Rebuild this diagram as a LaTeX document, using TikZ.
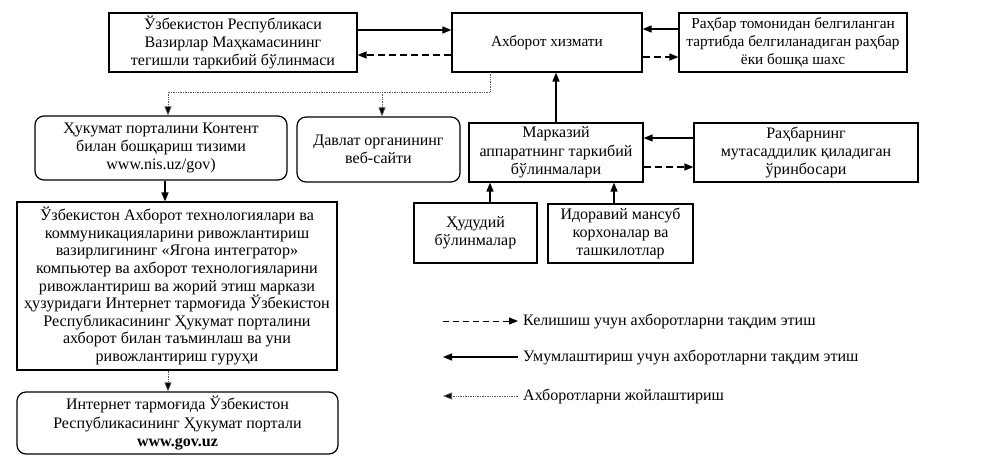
\documentclass[tikz,border=0pt]{standalone}
\usepackage{fontspec}
\setmainfont{Liberation Serif}
\usetikzlibrary{arrows.meta}
\begin{document}
\begin{tikzpicture}[x=1pt,y=-1pt,
  every node/.style={font=\fontsize{16}{18.3}\selectfont, align=center, inner sep=2pt},
  box/.style={draw, line width=1.2pt, minimum width=#1},
  rbox/.style={draw, line width=1.2pt, rounded corners=9pt, minimum width=#1},
  arr/.style={line width=1.3pt, -{Triangle[length=9pt,width=7pt]}},
  dsh/.style={arr, dash pattern=on 7pt off 4pt},
  dot/.style={line width=0.7pt, densely dotted, gray!70!black, -{Triangle[length=9pt,width=7pt,fill=black]}},
  dotl/.style={line width=0.7pt, densely dotted, gray!70!black}
]
\useasboundingbox (0,0) rectangle (988,474);
\node[box=248pt, minimum height=59pt] (b1) at (233,42.5) {Ўзбекистон Республикаси\\Вазирлар Маҳкамасининг\\тегишли таркибий бўлинмаси};
\node[box=190pt, minimum height=59pt, font=\fontsize{15.3}{18.3}\selectfont] (b2) at (547,42.5) {Ахборот хизмати};
\node[box=228pt, minimum height=59pt, font=\fontsize{15.3}{18.3}\selectfont] (b3) at (793,42.5) {Раҳбар томонидан белгиланган\\тартибда белгиланадиган раҳбар\\ёки бошқа шахс};
\node[rbox=252pt, minimum height=64pt] (b4) at (161,148) {Ҳукумат порталини Контент\\билан бошқариш тизими\\www.nis.uz/gov)};
\node[rbox=163pt, minimum height=65pt] (b5) at (378.5,149.5) {Давлат органининг\\веб-сайти};
\node[box=174pt, minimum height=59pt] (b6) at (556,152.5) {Марказий\\аппаратнинг таркибий\\бўлинмалари};
\node[box=224pt, minimum height=59pt] (b7) at (806,152.5) {Раҳбарнинг\\мутасаддилик қиладиган\\ўринбосари};
\node[box=123pt, minimum height=60pt] (b8) at (475.5,233) {Ҳудудий\\бўлинмалар};
\node[box=145pt, minimum height=59pt] (b9) at (620.5,233.5) {Идоравий мансуб\\корхоналар ва\\ташкилотлар};
\node[box=320pt, minimum height=168pt, font=\fontsize{16.1}{17.6}\selectfont] (b10) at (177,286) {Ўзбекистон Ахборот технологиялари ва\\коммуникацияларини ривожлантириш\\вазирлигининг «Ягона интегратор»\\компьютер ва ахборот технологияларини\\ривожлантириш ва жорий этиш маркази\\ҳузуридаги Интернет тармоғида Ўзбекистон\\Республикасининг Ҳукумат порталини\\ахборот билан таъминлаш ва уни\\ривожлантириш гуруҳи};
\node[rbox=321pt, minimum height=62pt] (b11) at (177.5,423) {Интернет тармоғида Ўзбекистон\\Республикасининг Ҳукумат портали\\\textbf{www.gov.uz}};
% top row connectors
\draw[arr] ([yshift=12.5pt]b1.east) -- ([yshift=12.5pt]b2.west);
\draw[dsh] ([yshift=-12.5pt]b2.west) -- ([yshift=-12.5pt]b1.east);
\draw[arr] ([yshift=13.5pt]b3.west) -- ([yshift=13.5pt]b2.east);
\draw[dsh] ([yshift=-14.5pt]b2.east) -- ([yshift=-14.5pt]b3.west);
% middle
\draw[arr] (b6.north) -- (b6.north |- b2.south);
\draw[arr] ([yshift=14.5pt]b7.west) -- ([yshift=14.5pt]b6.east);
\draw[dsh] ([yshift=-14.5pt]b6.east) -- ([yshift=-14.5pt]b7.west);
\draw[arr] (490,0 |- b8.north) -- (490,0 |- b6.south);
\draw[arr] (614,0 |- b9.north) -- (614,0 |- b6.south);
% dotted distribution
\coordinate (d0) at (490,72);
\coordinate (dj) at (490,92);
\coordinate (dl) at (168,92);
\coordinate (dm) at (382,92);
\draw[dotl] (d0) -- (dj) -- (dl);
\draw[dot] (dl) -- (dl |- b4.north);
\draw[dot] (dm) -- (dm |- b5.north);
% left column
\draw[arr] (165,0 |- b4.south) -- (165,0 |- b10.north);
\draw[dot] (168,0 |- b10.south) -- (168,0 |- b11.north);
% legend
\coordinate (l1a) at (443,321); \coordinate (l1b) at (518,321);
\coordinate (l2a) at (518,357); \coordinate (l2b) at (443,357);
\coordinate (l3a) at (518,396); \coordinate (l3b) at (443,396);
\draw[dsh, line width=1pt, dash pattern=on 6pt off 4pt] (l1a) -- (l1b);
\draw[arr] (l2a) -- (l2b);
\draw[dot] (l3a) -- (l3b);
\node[anchor=west] (t1) at (521,321) {Келишиш учун ахборотларни тақдим этиш};
\node[anchor=west] (t2) at (521,357) {Умумлаштириш учун ахборотларни тақдим этиш};
\node[anchor=west] (t3) at (521,396) {Ахборотларни жойлаштириш};
\end{tikzpicture}
\end{document}
